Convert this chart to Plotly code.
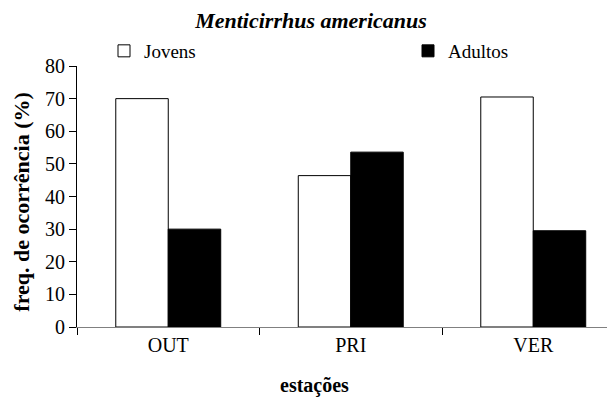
import plotly.graph_objects as go

categories = ["OUT", "PRI", "VER"]
jovens = [70.0, 46.4, 70.5]
adultos = [30.0, 53.6, 29.5]
y_ticks = [0, 10, 20, 30, 40, 50, 60, 70, 80]

FONT = "Liberation Serif, Times New Roman, serif"

fig = go.Figure()
fig.add_trace(go.Bar(x=categories, y=jovens, name="Jovens", legend="legend",
                     marker=dict(color="white", line=dict(color="black", width=1))))
fig.add_trace(go.Bar(x=categories, y=adultos, name="Adultos", legend="legend2",
                     marker=dict(color="black", line=dict(color="black", width=1))))

# page body has an 8px margin, so figure coords = screen coords - 8
W, H = 607, 389
L, T = 69, 58
plot_bottom = 318.7
B = H - plot_bottom
R = 0
plot_w = W - L - R
plot_h = plot_bottom - T
cat_px = 182.5
x_max = -0.5 + plot_w / cat_px

leg_common = dict(orientation="h", xanchor="left",
                  y=(plot_bottom - 43) / plot_h, yanchor="middle",
                  font=dict(family=FONT, size=19), itemwidth=30,
                  bgcolor="rgba(0,0,0,0)")

fig.update_layout(
    width=W, height=H,
    margin=dict(l=L, r=R, t=T, b=B, autoexpand=False),
    paper_bgcolor="white", plot_bgcolor="white",
    font=dict(family=FONT, size=20, color="black"),
    barmode="group", bargap=0.425, bargroupgap=0,
    showlegend=True,
    legend=dict(x=(96 - L) / plot_w, **leg_common),
    legend2=dict(x=(400 - L) / plot_w, **leg_common),
    title=dict(text="<b><i>Menticirrhus americanus</i></b>", x=303 / W, xanchor="center",
               y=1 - 12 / H, yanchor="middle", font=dict(family=FONT, size=22)),
)

fig.update_xaxes(
    type="category", range=[-0.5, x_max], automargin=False,
    showline=True, linecolor="#808080", linewidth=1,
    ticks="outside", tickson="boundaries", ticklen=7, tickcolor="black",
    tickfont=dict(family=FONT, size=20), showgrid=False, zeroline=False,
)
fig.update_yaxes(
    range=[0, 80], tickvals=y_ticks, automargin=False,
    showline=True, linecolor="black", linewidth=1,
    ticks="outside", ticklen=7, tickcolor="black",
    tickfont=dict(family=FONT, size=20), showgrid=False, zeroline=False,
)

fig.add_annotation(text="<b>freq. de ocorrência (%)</b>", textangle=-90,
                   xref="paper", yref="paper", x=(14 - L) / plot_w,
                   y=(plot_bottom - 193.5) / plot_h,
                   xanchor="center", yanchor="middle", showarrow=False,
                   font=dict(family=FONT, size=22))
fig.add_annotation(text="<b>estações</b>", xref="paper", yref="paper",
                   x=(306 - L) / plot_w, y=-(377 - plot_bottom) / plot_h,
                   xanchor="center", yanchor="middle", showarrow=False,
                   font=dict(family=FONT, size=20))

fig.write_html("out.html")
